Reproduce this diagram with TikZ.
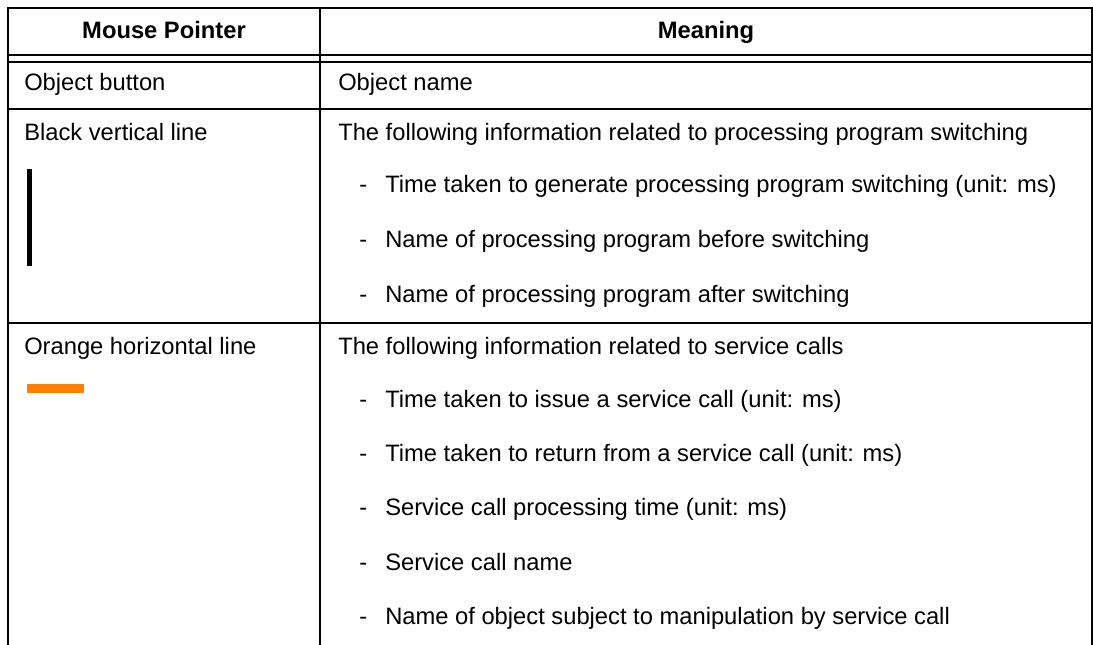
\documentclass[tikz,border=0pt]{standalone}
\usepackage{fontspec}
\setmainfont{Liberation Sans}
\definecolor{barorange}{RGB}{255,128,0}
\newcommand{\dashitem}{\makebox[19.5pt][l]{-}}

\begin{document}
\begin{tikzpicture}[x=0.75pt, y=-0.75pt,
  txt/.style={anchor=base west, inner sep=0pt, font=\fontsize{17.8pt}{20pt}\selectfont},
  head/.style={anchor=base, inner sep=0pt, font=\fontsize{17.8pt}{20pt}\selectfont\bfseries},
  rule/.style={line width=1.5pt}]

\useasboundingbox (0,0) rectangle (1093,645);

% frame
\draw[rule] (8,645) -- (8,8) -- (1092,8) -- (1092,645);
\draw[rule] (320,8) -- (320,645);
\draw[rule] (8,55) -- (1092,55);
\draw[rule] (8,62) -- (1092,62);
\draw[rule] (8,109) -- (1092,109);
\draw[rule] (8,323) -- (1092,323);

% header
\node[head] (mouse) at (164,39) {Mouse Pointer};
\node[head] (meaning) at (706,39) {Meaning};

% object button
\node[txt] (objbtn) at (24,91) {Object button};
\node[txt] (objname) at (338,91) {Object name};

% black vertical line
\node[txt] (black) at (24,141) {Black vertical line};
\fill (27,169) rectangle (32,266);
\node[txt] (sw) at (338,141) {The following information related to processing program switching};
\node[txt] (sw1) at (359,193) {\dashitem Time taken to generate processing program switching (unit: ms)};
\node[txt] (sw2) at (359,248) {\dashitem Name of processing program before switching};
\node[txt] (sw3) at (359,303) {\dashitem Name of processing program after switching};

% orange horizontal line
\node[txt] (orange) at (24,355) {Orange horizontal line};
\fill[barorange] (27,384) rectangle (84,393);
\node[txt] (sc) at (338,354) {The following information related to service calls};
\node[txt] (sc1) at (359,407) {\dashitem Time taken to issue a service call (unit: ms)};
\node[txt] (sc2) at (359,461) {\dashitem Time taken to return from a service call (unit: ms)};
\node[txt] (sc3) at (359,515) {\dashitem Service call processing time (unit: ms)};
\node[txt] (sc4) at (359,570) {\dashitem Service call name};
\node[txt] (sc5) at (359,624) {\dashitem Name of object subject to manipulation by service call};

\end{tikzpicture}
\end{document}
